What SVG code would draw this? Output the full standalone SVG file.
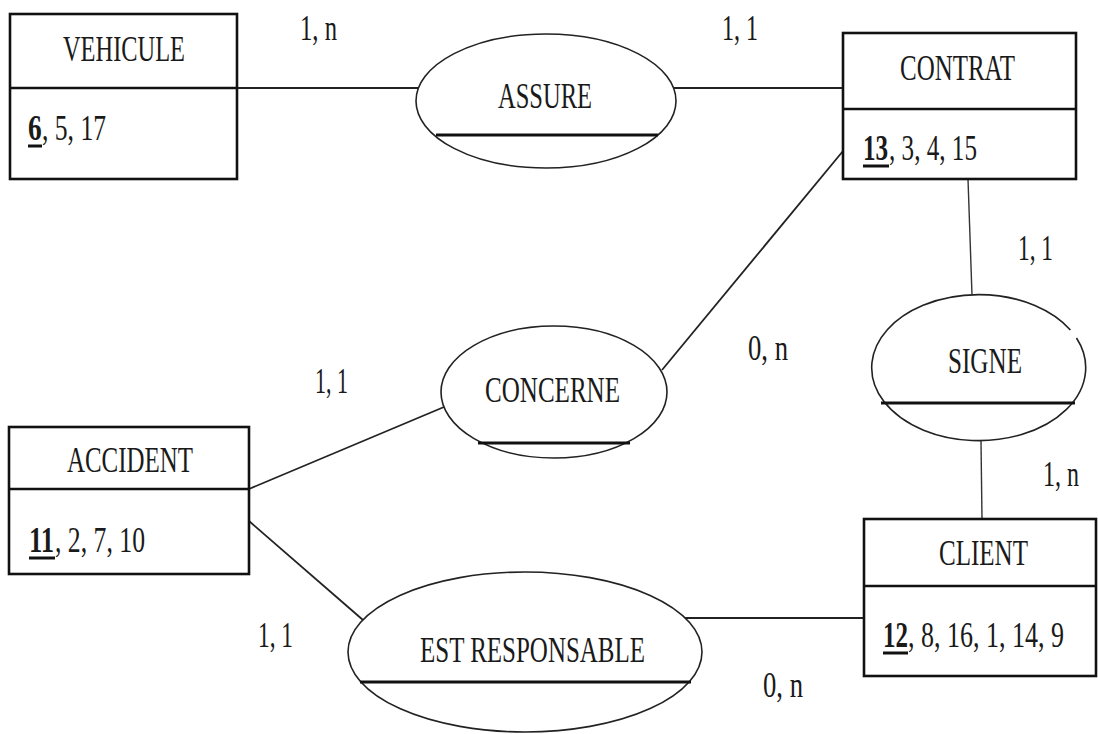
<svg xmlns="http://www.w3.org/2000/svg" width="1098" height="734" viewBox="0 0 1098 734">
<style>
text{font-family:"Liberation Serif","Times New Roman",serif;font-size:35px;fill:#1a1a1a}
.box{fill:#fff;stroke:#111;stroke-width:2.6}
.div{stroke:#111;stroke-width:2.6}
.rel{fill:#fff;stroke:#222;stroke-width:1.6}
.rdiv{stroke:#111;stroke-width:3}
.con{stroke:#222;stroke-width:1.8;fill:none}
.thin{stroke:#333;stroke-width:1.4;fill:none}
.key{font-weight:bold}
.ul{stroke:#111;stroke-width:3}
</style>
<rect width="1098" height="734" fill="#fff"/>
<g id="connectors">
<line class="con" x1="237" y1="88" x2="419" y2="88"/>
<line class="con" x1="673" y1="88" x2="843" y2="88"/>
<line class="con" x1="662" y1="370" x2="843" y2="151"/>
<line class="con" x1="249" y1="489" x2="444" y2="407"/>
<line class="thin" x1="968" y1="179" x2="972" y2="295"/>
<line class="thin" x1="981" y1="441" x2="982" y2="519"/>
<line class="con" x1="249" y1="521" x2="363" y2="620"/>
<line class="con" x1="683" y1="618" x2="864" y2="618"/>
</g>
<g id="labels">
<text transform="translate(300,40) scale(0.72,1)" textLength="51.4" lengthAdjust="spacingAndGlyphs">1, n</text>
<text transform="translate(722,40) scale(0.72,1)" textLength="50" lengthAdjust="spacingAndGlyphs">1, 1</text>
<text transform="translate(1018,260) scale(0.72,1)" textLength="48.6" lengthAdjust="spacingAndGlyphs">1, 1</text>
<text transform="translate(748,360) scale(0.72,1)" textLength="55.6" lengthAdjust="spacingAndGlyphs">0, n</text>
<text transform="translate(315,393) scale(0.72,1)" textLength="45.8" lengthAdjust="spacingAndGlyphs">1, 1</text>
<text transform="translate(1043,486) scale(0.72,1)" textLength="50" lengthAdjust="spacingAndGlyphs">1, n</text>
<text transform="translate(258,647) scale(0.72,1)" textLength="48.6" lengthAdjust="spacingAndGlyphs">1, 1</text>
<text transform="translate(763,697) scale(0.72,1)" textLength="55.6" lengthAdjust="spacingAndGlyphs">0, n</text>
</g>
<g id="vehicule">
<rect class="box" x="10" y="14" width="227" height="165"/>
<line class="div" x1="10" y1="88" x2="237" y2="88"/>
<text transform="translate(63,61) scale(0.72,1)" textLength="169.4" lengthAdjust="spacingAndGlyphs">VEHICULE</text>
<text class="key" transform="translate(28,140) scale(0.72,1)" textLength="19" lengthAdjust="spacingAndGlyphs">6</text>
<line class="ul" x1="28" y1="146" x2="42" y2="146"/>
<text transform="translate(42,140) scale(0.72,1)" textLength="88.9" lengthAdjust="spacingAndGlyphs">, 5, 17</text>
</g>
<g id="contrat">
<rect class="box" x="843" y="33" width="233" height="146"/>
<line class="div" x1="843" y1="109" x2="1076" y2="109"/>
<text transform="translate(900,80) scale(0.72,1)" textLength="159.7" lengthAdjust="spacingAndGlyphs">CONTRAT</text>
<text class="key" transform="translate(863,160) scale(0.72,1)" textLength="35" lengthAdjust="spacingAndGlyphs">13</text>
<line class="ul" x1="863" y1="166" x2="889" y2="166"/>
<text transform="translate(889,160) scale(0.72,1)" textLength="122.2" lengthAdjust="spacingAndGlyphs">, 3, 4, 15</text>
</g>
<g id="accident">
<rect class="box" x="9" y="427" width="240" height="147"/>
<line class="div" x1="9" y1="489" x2="249" y2="489"/>
<text transform="translate(67,472) scale(0.72,1)" textLength="175" lengthAdjust="spacingAndGlyphs">ACCIDENT</text>
<text class="key" transform="translate(29,552) scale(0.72,1)" textLength="35" lengthAdjust="spacingAndGlyphs">11</text>
<line class="ul" x1="29" y1="558" x2="55" y2="558"/>
<text transform="translate(55,552) scale(0.72,1)" textLength="125" lengthAdjust="spacingAndGlyphs">, 2, 7, 10</text>
</g>
<g id="client">
<rect class="box" x="864" y="519" width="232" height="157"/>
<line class="div" x1="864" y1="586" x2="1096" y2="586"/>
<text transform="translate(939,565) scale(0.72,1)" textLength="123.6" lengthAdjust="spacingAndGlyphs">CLIENT</text>
<text class="key" transform="translate(883,647) scale(0.72,1)" textLength="34.7" lengthAdjust="spacingAndGlyphs">12</text>
<line class="ul" x1="883" y1="653" x2="908" y2="653"/>
<text transform="translate(908,647) scale(0.72,1)" textLength="216.7" lengthAdjust="spacingAndGlyphs">, 8, 16, 1, 14, 9</text>
</g>
<g id="assure">
<ellipse class="rel" cx="546" cy="101" rx="130" ry="67"/>
<line class="rdiv" x1="436" y1="135" x2="658" y2="135"/>
<text transform="translate(498,108) scale(0.72,1)" textLength="130.6" lengthAdjust="spacingAndGlyphs">ASSURE</text>
</g>
<g id="concerne">
<ellipse class="rel" cx="554" cy="392" rx="113" ry="66"/>
<line class="rdiv" x1="478" y1="443" x2="630" y2="443"/>
<text transform="translate(485,402) scale(0.72,1)" textLength="187.5" lengthAdjust="spacingAndGlyphs">CONCERNE</text>
</g>
<g id="signe">
<path class="rel" d="M 1076.5 338 A 107 73 0 1 1 1070.4 330"/>
<line class="rdiv" x1="881" y1="403" x2="1075" y2="403"/>
<text transform="translate(948,373) scale(0.72,1)" textLength="102.8" lengthAdjust="spacingAndGlyphs">SIGNE</text>
</g>
<g id="est-responsable">
<ellipse class="rel" cx="525" cy="652" rx="177" ry="80"/>
<line class="rdiv" x1="360" y1="682" x2="691" y2="682"/>
<text transform="translate(420,662) scale(0.72,1)" textLength="312.5" lengthAdjust="spacingAndGlyphs">EST RESPONSABLE</text>
</g>
</svg>
